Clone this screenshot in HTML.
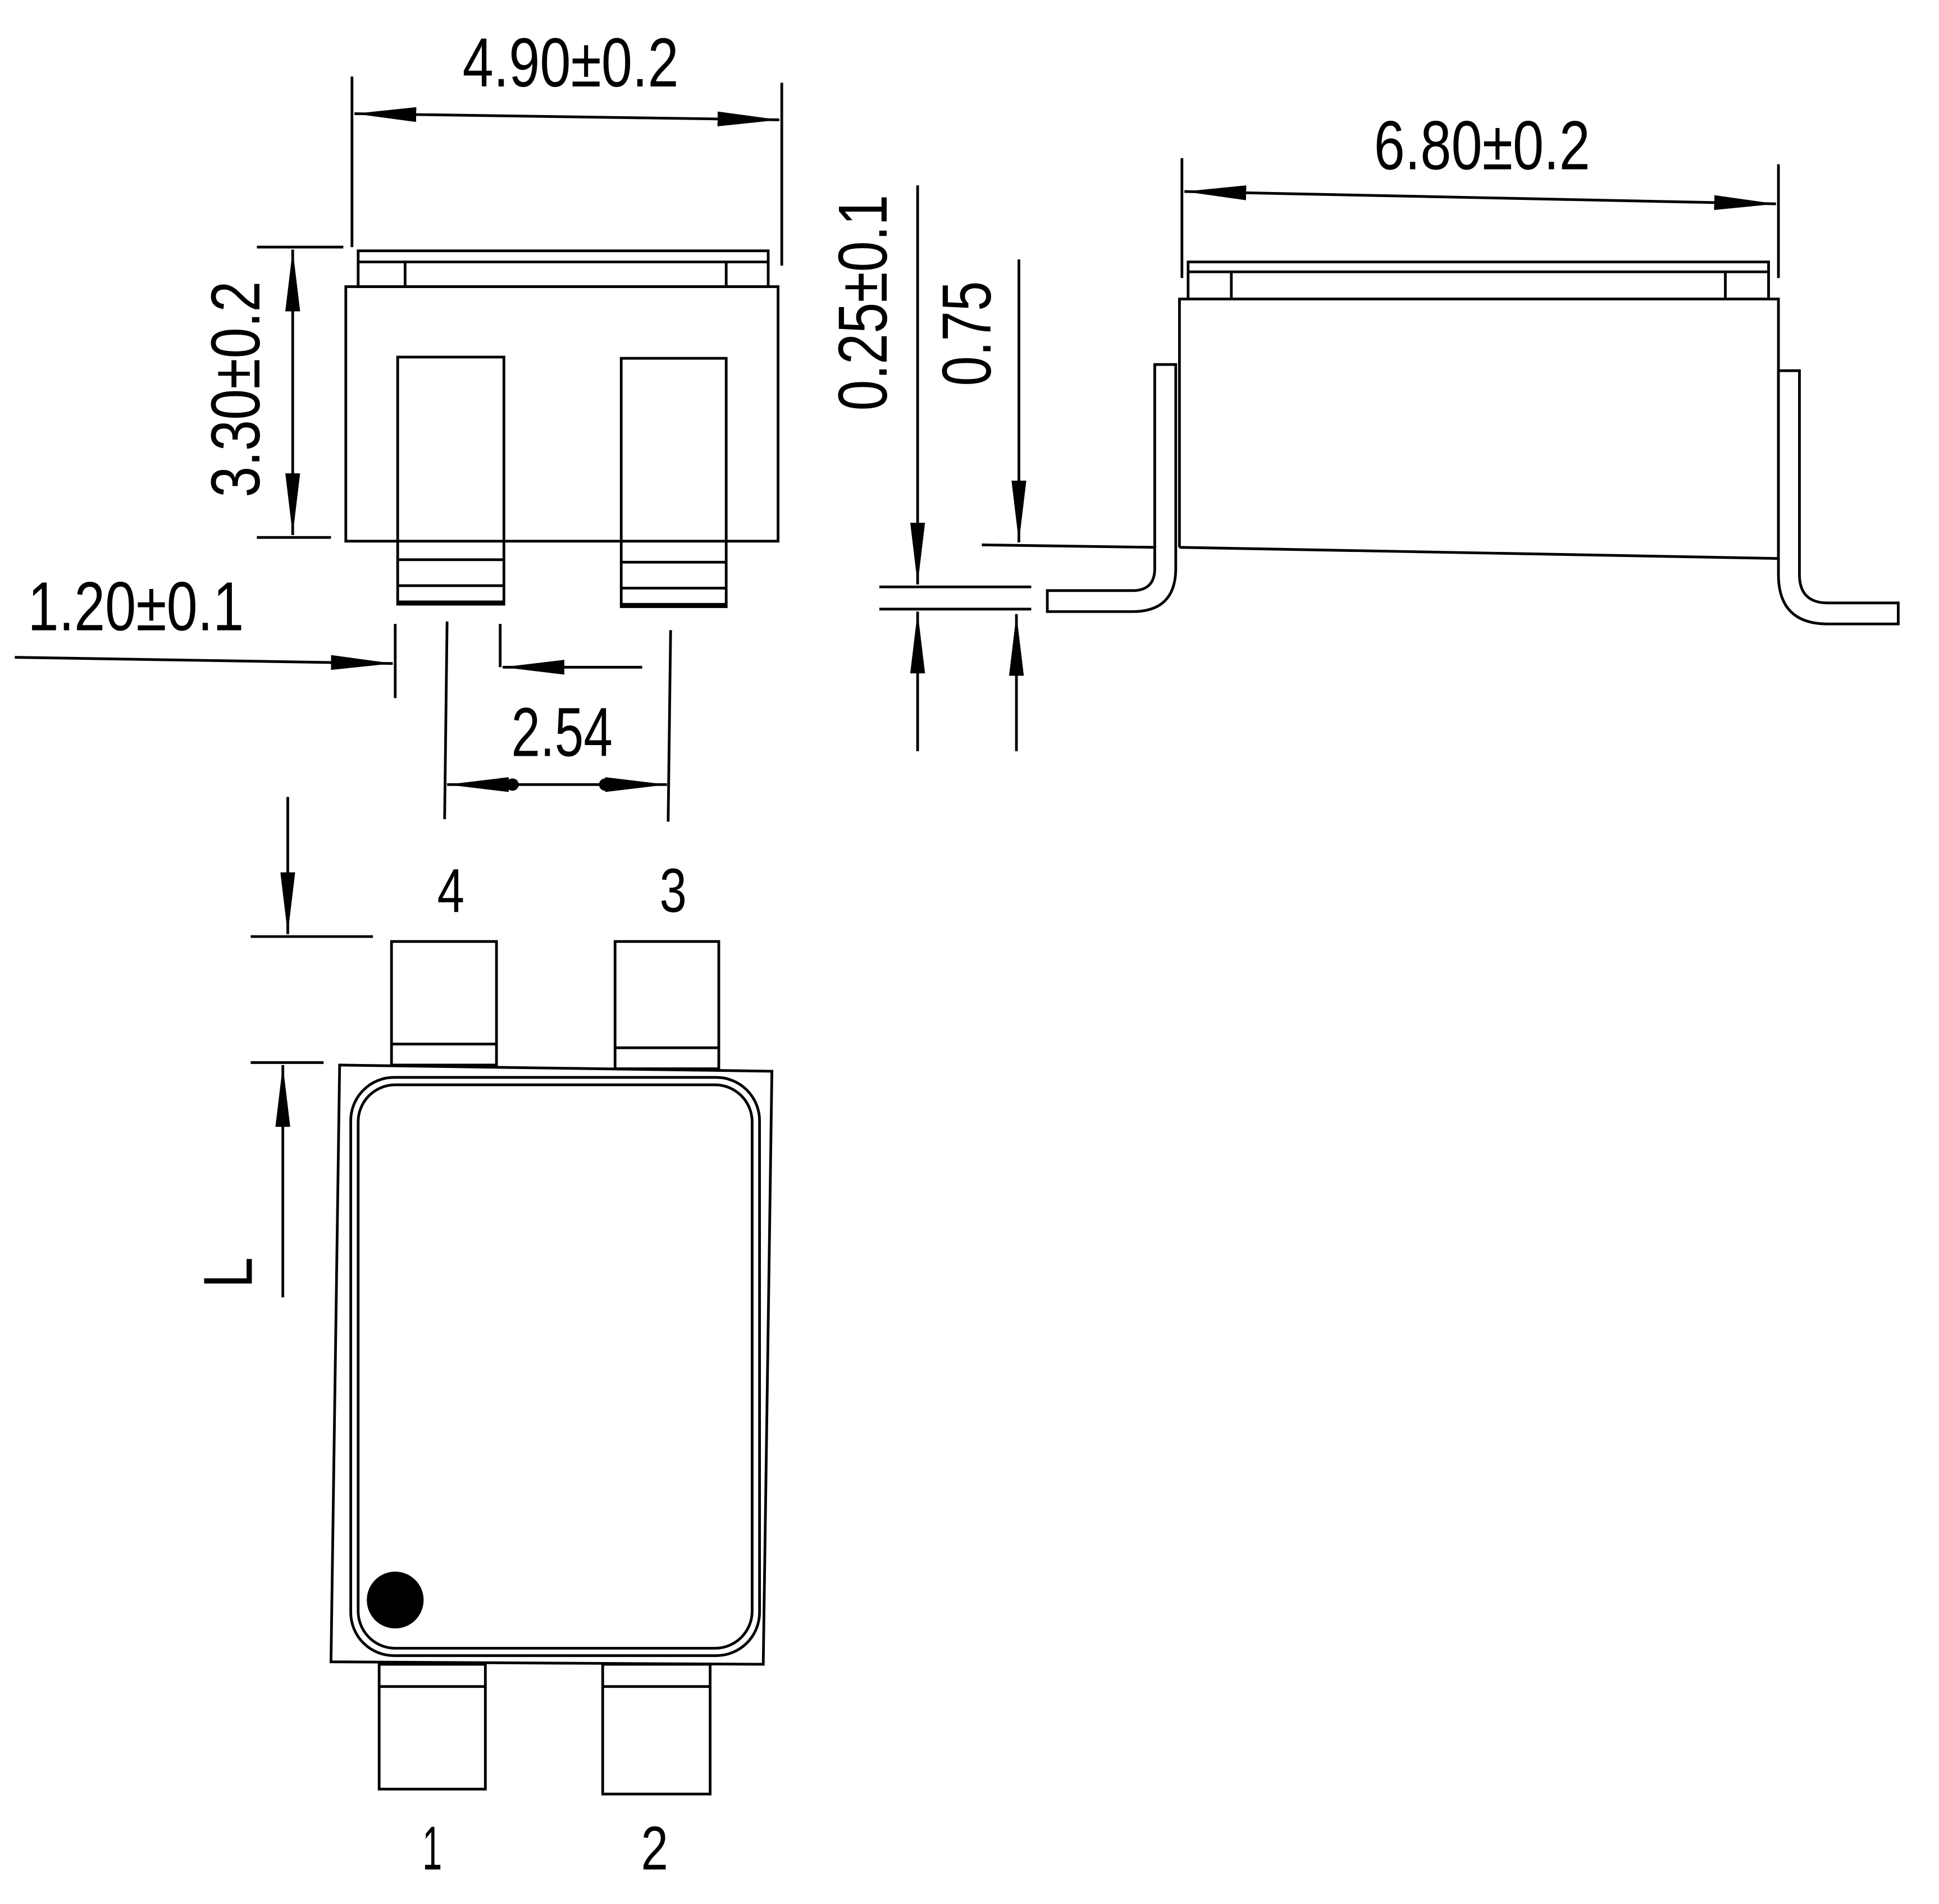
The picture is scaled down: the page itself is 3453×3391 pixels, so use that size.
<!DOCTYPE html>
<html><head><meta charset="utf-8"><style>html,body{margin:0;padding:0;background:#fff}svg{display:block}</style></head>
<body>
<svg width="3453" height="3391" viewBox="0 0 1570 1541" preserveAspectRatio="none" xmlns="http://www.w3.org/2000/svg">
<defs>
<marker id="a" viewBox="0 0 50 12" refX="50" refY="6" markerWidth="50" markerHeight="12" markerUnits="userSpaceOnUse" orient="auto-start-reverse"><path d="M0,0 L50,6 L0,12 Z" fill="#000"/></marker>
</defs>
<g fill="none" stroke="#000" stroke-width="2.2">
<rect x="280" y="232" width="350" height="206"/>
<rect x="290" y="203" width="332" height="29"/>
<line x1="290" y1="212" x2="622" y2="212"/>
<line x1="328" y1="212" x2="328" y2="232"/>
<line x1="588" y1="212" x2="588" y2="232"/>
<rect x="322" y="289" width="86" height="200"/>
<line x1="322" y1="453" x2="408" y2="453"/><line x1="322" y1="474" x2="408" y2="474"/>
<line x1="322" y1="488" x2="408" y2="488" stroke-width="4"/>
<rect x="503" y="290" width="85" height="201"/>
<line x1="503" y1="455" x2="588" y2="455"/><line x1="503" y1="476" x2="588" y2="476"/>
<line x1="503" y1="490" x2="588" y2="490" stroke-width="4"/>
<line x1="285" y1="62" x2="285" y2="200"/><line x1="633" y1="67" x2="633" y2="215"/>
<line x1="287" y1="92" x2="631" y2="97" marker-start="url(#a)" marker-end="url(#a)"/>
<line x1="208" y1="200" x2="278" y2="200"/><line x1="208" y1="435" x2="268" y2="435"/>
<line x1="237" y1="202" x2="237" y2="433" marker-start="url(#a)" marker-end="url(#a)"/>
<line x1="12" y1="532" x2="318" y2="537" marker-end="url(#a)"/>
<line x1="320" y1="505" x2="320" y2="565"/>
<line x1="362" y1="503" x2="360" y2="663"/>
<line x1="405" y1="505" x2="405" y2="540"/>
<line x1="520" y1="540" x2="407" y2="540" marker-end="url(#a)"/>
<line x1="543" y1="510" x2="541" y2="665"/>
<line x1="420" y1="635" x2="362" y2="635" marker-end="url(#a)"/>
<line x1="485" y1="635" x2="540" y2="635" marker-end="url(#a)"/>
<line x1="415" y1="635" x2="490" y2="635"/>
<line x1="233" y1="645" x2="233" y2="756" marker-end="url(#a)"/>
<line x1="203" y1="758" x2="302" y2="758"/>
<line x1="203" y1="860" x2="262" y2="860"/>
<line x1="229" y1="1050" x2="229" y2="862" marker-end="url(#a)"/>
<rect x="317" y="762" width="85" height="100"/><line x1="317" y1="845" x2="402" y2="845"/>
<rect x="498" y="762" width="84" height="103"/><line x1="498" y1="848" x2="582" y2="848"/>
<polygon points="275,862 625,867 618,1347 268,1345"/>
<rect x="284" y="872" width="331" height="468" rx="35"/>
<rect x="290" y="878" width="319" height="456" rx="30"/>
<rect x="307" y="1347" width="86" height="101"/><line x1="307" y1="1365" x2="393" y2="1365"/>
<rect x="488" y="1347" width="87" height="105"/><line x1="488" y1="1365" x2="575" y2="1365"/>
<line x1="957" y1="128" x2="957" y2="225"/><line x1="1440" y1="133" x2="1440" y2="225"/>
<line x1="959" y1="155" x2="1438" y2="165" marker-start="url(#a)" marker-end="url(#a)"/>
<rect x="962" y="212" width="470" height="30"/>
<line x1="962" y1="220" x2="1432" y2="220"/>
<line x1="997" y1="220" x2="997" y2="242"/><line x1="1397" y1="220" x2="1397" y2="242"/>
<path d="M955,443 L955,242 L1440,242 L1440,452 L955,443"/>
<path d="M935,295 L935,460 Q935,478 917,478 L848,478 L848,495 L917,495 Q952,495 952,460 L952,295 Z" fill="#fff"/>
<path d="M1440,300 L1457,300 L1457,465 Q1457,488 1480,488 L1537,488 L1537,505 L1480,505 Q1440,505 1440,465 Z" fill="#fff"/>
<line x1="795" y1="441" x2="935" y2="443"/>
<line x1="743" y1="150" x2="743" y2="473" marker-end="url(#a)"/>
<line x1="712" y1="475" x2="835" y2="475"/><line x1="712" y1="493" x2="835" y2="493"/>
<line x1="743" y1="608" x2="743" y2="495" marker-end="url(#a)"/>
<line x1="825" y1="210" x2="825" y2="439" marker-end="url(#a)"/>
<line x1="823" y1="608" x2="823" y2="497" marker-end="url(#a)"/>
</g>
<circle cx="320" cy="1295" r="23" fill="#000"/>
<circle cx="415" cy="635" r="5" fill="#000"/><circle cx="490" cy="635" r="5" fill="#000"/>
<g font-family="Liberation Sans, sans-serif" font-size="56" fill="#000" text-anchor="middle">
<text x="462" y="70" textLength="175" lengthAdjust="spacingAndGlyphs">4.90±0.2</text>
<text x="1200" y="137" textLength="175" lengthAdjust="spacingAndGlyphs">6.80±0.2</text>
<text x="110" y="510" textLength="175" lengthAdjust="spacingAndGlyphs">1.20±0.1</text>
<text x="455" y="612" textLength="82" lengthAdjust="spacingAndGlyphs">2.54</text>
<text transform="translate(210,315) rotate(-90)" textLength="175" lengthAdjust="spacingAndGlyphs">3.30±0.2</text>
<text transform="translate(718,245) rotate(-90)" textLength="175" lengthAdjust="spacingAndGlyphs">0.25±0.1</text>
<text transform="translate(802,270) rotate(-90)" textLength="85" lengthAdjust="spacingAndGlyphs">0.75</text>
<text transform="translate(204,1030) rotate(-90)" textLength="25" lengthAdjust="spacingAndGlyphs">L</text>
<text x="365" y="738" font-size="50" textLength="22" lengthAdjust="spacingAndGlyphs">4</text>
<text x="545" y="738" font-size="50" textLength="22" lengthAdjust="spacingAndGlyphs">3</text>
<text x="350" y="1513" font-size="50" textLength="16" lengthAdjust="spacingAndGlyphs">1</text>
<text x="530" y="1513" font-size="50" textLength="22" lengthAdjust="spacingAndGlyphs">2</text>
</g>
</svg>
</body></html>
